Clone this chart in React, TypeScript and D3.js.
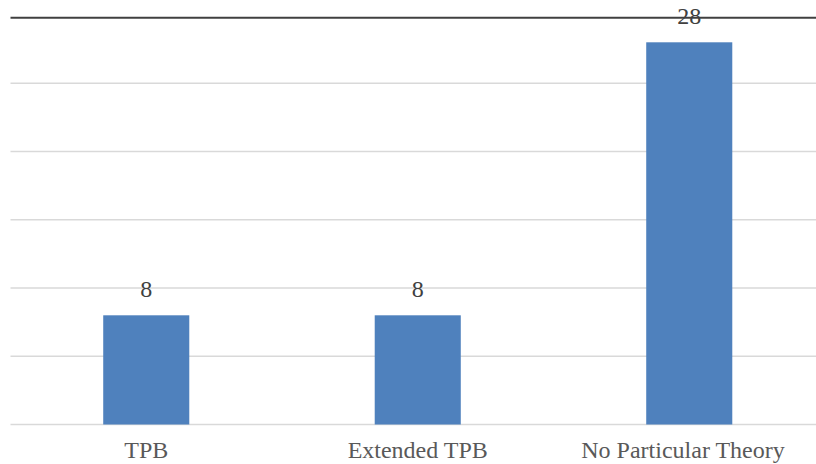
import React from 'react';
import * as d3 from 'd3';

const categories = ['TPB', 'Extended TPB', 'No Particular Theory'];
const counts = [8, 8, 28];
const gridTicks = [0, 5, 10, 15, 20, 25];

const W = 816;
const H = 464;

const App: React.FC = () => {
  const margin = { left: 10.5, right: -9, baseline: 424.5 };
  const labelRightLimit = W - 31; // labels are pushed in so they stay inside the chart area

  const x = d3.scaleBand<string>()
    .domain(categories)
    .range([margin.left, W - margin.right])
    .paddingInner(0.683)
    .paddingOuter(0.3415);

  const y = d3.scaleLinear()
    .domain([0, 30])
    .range([margin.baseline, margin.baseline - 409.5]);

  const font = '"Liberation Serif", "Times New Roman", serif';
  const fontSize = 24;

  return (
    <div style={{ position: 'fixed', left: 0, top: 0 }}>
      <svg width={W} height={H} style={{ display: 'block', background: '#fff' }}>
        {gridTicks.map(t => (
          <line key={t} x1={margin.left} x2={W} y1={y(t)} y2={y(t)}
            stroke="#d9d9d9" strokeWidth={t === 0 ? 1.5 : 1.3} />
        ))}
        {/* dark top border */}
        <line x1={margin.left} x2={W} y1={17.8} y2={17.8} stroke="#404040" strokeWidth={2} />

        {categories.map((c, i) => {
          const v = counts[i];
          const bx = x(c) as number;
          const bw = x.bandwidth();
          const cx = bx + bw / 2;
          const halfW = (c.length * fontSize * 0.425) / 2;
          const lx = Math.min(cx, labelRightLimit - halfW);
          return (
            <g key={c}>
              <rect x={bx} y={y(v)} width={bw} height={y(0) - y(v)} fill="#4f81bd" />
              <text x={cx} y={y(v) - 18} textAnchor="middle"
                style={{ fontFamily: font, fontSize }} fill="#404040">{v}</text>
              <text x={lx} y={458} textAnchor="middle"
                style={{ fontFamily: font, fontSize }} fill="#595959">{c}</text>
            </g>
          );
        })}
      </svg>
    </div>
  );
};

export default App;
